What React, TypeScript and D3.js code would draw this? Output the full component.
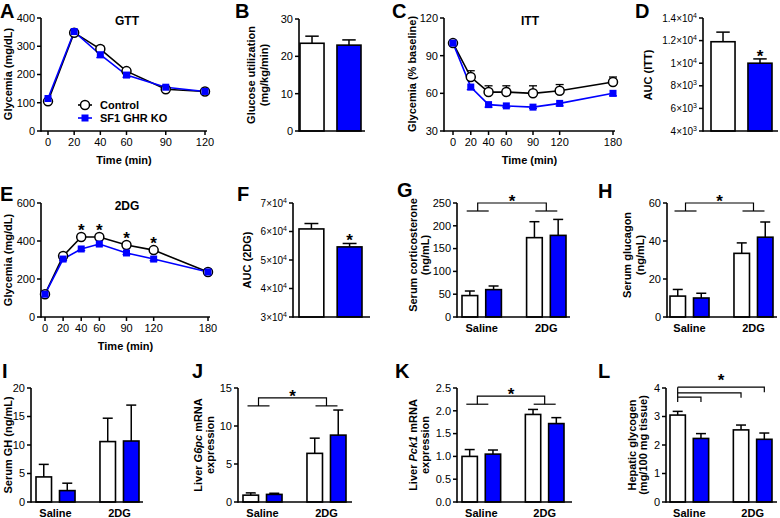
import React from "react";
import * as d3 from "d3";

const FONT = "'Liberation Sans', Arial, Helvetica, sans-serif";
const BLUE = "#0000ff";

// A: GTT
const gttTime = [0, 20, 40, 60, 90, 120];
const gttControl = [105, 348, 290, 212, 148, 140];
const gttControlErr = [6, 8, 10, 8, 6, 5];
const gttKO = [115, 352, 270, 198, 155, 140];
const gttKOErr = [8, 8, 10, 8, 6, 5];

// B: glucose utilization
const glucoseUtil = [23.5, 23.0];
const glucoseUtilErr = [1.9, 1.4];

// C: ITT
const ittTime = [0, 20, 40, 60, 90, 120, 180];
const ittControl = [100, 73, 61, 61, 60, 62, 69];
const ittControlErr = [0, 5, 5, 5, 6, 5, 4];
const ittKO = [100, 65, 51, 50, 49, 52, 60];
const ittKOErr = [0, 2, 2, 1, 1, 2, 2];

// D: AUC ITT
const aucITT = [11900, 10000];
const aucITTErr = [850, 380];

// E: 2DG
const dgTime = [0, 20, 40, 60, 90, 120, 180];
const dgControl = [120, 321, 421, 421, 379, 352, 237];
const dgControlErr = [6, 8, 8, 8, 8, 8, 6];
const dgKO = [120, 305, 358, 384, 337, 305, 237];
const dgKOErr = [6, 8, 8, 8, 8, 8, 6];
const dgStarTimes = [40, 60, 90, 120];

// F: AUC 2DG
const aucDG = [60900, 54600];
const aucDGErr = [1900, 1200];

// G-L: saline vs 2DG, order [saline ctrl, saline KO, 2DG ctrl, 2DG KO]
const groups = ["Saline", "2DG"];
const cort = [47, 60, 174, 179];
const cortErr = [10, 8, 35, 35];
const glucagon = [11, 10, 33.5, 42];
const glucagonErr = [3.5, 2.5, 5.5, 8];
const gh = [4.4, 2.0, 10.6, 10.7];
const ghErr = [2.2, 1.3, 4.1, 6.3];
const g6pc = [0.9, 1.0, 6.4, 8.8];
const g6pcErr = [0.3, 0.15, 2.0, 3.3];
const pck1 = [1.0, 1.05, 1.92, 1.72];
const pck1Err = [0.15, 0.09, 0.11, 0.13];
const glycogen = [3.05, 2.23, 2.53, 2.2];
const glycogenErr = [0.13, 0.17, 0.17, 0.22];

const sci = (v: number) => {
  const e = Math.floor(Math.log10(v) + 1e-9);
  const m = +(v / Math.pow(10, e)).toFixed(1);
  return (
    <>
      {m}×10<tspan dy="-4" fontSize="7">{e}</tspan>
    </>
  );
};

function YAxis({ x, y, ticks, fmt = (v: number) => String(v), fs = 11 }: any) {
  const [b, t] = y.range();
  return (
    <g>
      <line x1={x} x2={x} y1={b + 0.75} y2={t} stroke="#000" strokeWidth={1.6} />
      {ticks.map((v: number) => (
        <g key={v}>
          <line x1={x - 4} x2={x} y1={y(v)} y2={y(v)} stroke="#000" strokeWidth={1.5} />
          <text x={x - 6} y={y(v)} dy="0.35em" textAnchor="end" fontSize={fs}>
            {fmt(v)}
          </text>
        </g>
      ))}
    </g>
  );
}

function VLabel({ x, y, lines }: any) {
  return (
    <g>
      {lines.map((l: any, i: number) => (
        <text key={i} transform={`translate(${x[i]},${y}) rotate(-90)`} dy="0.35em" textAnchor="middle" fontSize={11} fontWeight="bold">
          {l}
        </text>
      ))}
    </g>
  );
}

function Letter({ x, y, t }: any) {
  return (
    <text x={x} y={y} fontSize={20} fontWeight="bold">
      {t}
    </text>
  );
}

function LinePanel(p: any) {
  const x = d3.scaleLinear().domain(p.xDom).range(p.xRng);
  const y = d3.scaleLinear().domain(p.yDom).range([p.bottom, p.top]);
  const line = d3
    .line<number>()
    .x((_, i) => x(p.times[i]))
    .y((d) => y(d));
  return (
    <g>
      <YAxis x={p.axisX} y={y} ticks={p.yTicks} />
      <line x1={p.axisX} x2={p.axisEnd} y1={p.bottom} y2={p.bottom} stroke="#000" strokeWidth={1.6} />
      {p.times.map((t: number) => (
        <g key={t}>
          <line x1={x(t)} x2={x(t)} y1={p.bottom} y2={p.bottom + 4} stroke="#000" strokeWidth={1.5} />
          <text x={x(t)} y={p.bottom + 15} textAnchor="middle" fontSize={11}>
            {t}
          </text>
        </g>
      ))}
      <text x={(p.axisX + p.axisEnd) / 2} y={p.bottom + 33} textAnchor="middle" fontSize={11} fontWeight="bold">
        Time (min)
      </text>
      <text x={p.titleX} y={p.top + 7} textAnchor="middle" fontSize={12} fontWeight="bold">
        {p.title}
      </text>
      {p.ctrl.map((v: number, i: number) =>
        p.ctrlErr[i] > 0 ? (
          <g key={"ce" + i} stroke="#000" strokeWidth={1.3}>
            <line x1={x(p.times[i])} x2={x(p.times[i])} y1={y(v)} y2={y(v + p.ctrlErr[i])} />
            <line x1={x(p.times[i]) - 4} x2={x(p.times[i]) + 4} y1={y(v + p.ctrlErr[i])} y2={y(v + p.ctrlErr[i])} />
          </g>
        ) : null
      )}
      {p.ko.map((v: number, i: number) =>
        p.koErr[i] > 0 ? (
          <g key={"ke" + i} stroke={BLUE} strokeWidth={1.3}>
            <line x1={x(p.times[i])} x2={x(p.times[i])} y1={y(v)} y2={y(v - p.koErr[i])} />
            <line x1={x(p.times[i]) - 4} x2={x(p.times[i]) + 4} y1={y(v - p.koErr[i])} y2={y(v - p.koErr[i])} />
          </g>
        ) : null
      )}
      <path d={line(p.ctrl) as string} fill="none" stroke="#000" strokeWidth={1.6} />
      <path d={line(p.ko) as string} fill="none" stroke={BLUE} strokeWidth={1.6} />
      {p.ctrl.map((v: number, i: number) => (
        <circle key={"c" + i} cx={x(p.times[i])} cy={y(v)} r={4.5} fill="#fff" stroke="#000" strokeWidth={1.5} />
      ))}
      {p.ko.map((v: number, i: number) => (
        <rect key={"k" + i} x={x(p.times[i]) - 3.5} y={y(v) - 3.5} width={7} height={7} fill={BLUE} />
      ))}
      {(p.stars || []).map((t: number) => {
        const i = p.times.indexOf(t);
        return (
          <text key={"s" + t} x={x(t)} y={y(p.ctrl[i]) - 1} textAnchor="middle" fontSize={17} fontWeight="bold">
            *
          </text>
        );
      })}
    </g>
  );
}

function TwoBar(p: any) {
  const x = d3.scaleBand().domain(["Control", "KO"]).range(p.barRng).paddingInner(0.35);
  const y = d3.scaleLinear().domain(p.yDom).range([p.bottom, p.top]);
  const bw = x.bandwidth();
  return (
    <g>
      {p.values.map((v: number, i: number) => {
        const k = i === 0 ? "Control" : "KO";
        const cx = (x(k) as number) + bw / 2;
        const et = y(v + p.errs[i]);
        return (
          <g key={k}>
            <line x1={cx} x2={cx} y1={y(v)} y2={et} stroke="#000" strokeWidth={1.5} />
            <line x1={cx - bw * 0.28} x2={cx + bw * 0.28} y1={et} y2={et} stroke="#000" strokeWidth={1.5} />
            <rect x={x(k)} y={y(v)} width={bw} height={p.bottom - y(v)} fill={i === 0 ? "#fff" : BLUE} stroke="#000" strokeWidth={1.6} />
            {p.star && i === 1 ? (
              <text x={cx} y={et + 3} textAnchor="middle" fontSize={17} fontWeight="bold">
                *
              </text>
            ) : null}
          </g>
        );
      })}
      <YAxis x={p.axisX} y={y} ticks={p.yTicks} fmt={p.fmt} fs={p.fs || 11} />
      <line x1={p.axisX} x2={p.axisEnd} y1={p.bottom} y2={p.bottom} stroke="#000" strokeWidth={1.6} />
    </g>
  );
}

function GroupBar(p: any) {
  const outer = d3.scaleBand().domain(groups).range(p.barRng).paddingInner(0.39);
  const inner = d3.scaleBand().domain(["Control", "KO"]).range([0, outer.bandwidth()]).paddingInner(0.34);
  const y = d3.scaleLinear().domain(p.yDom).range([p.bottom, p.top]);
  const bw = inner.bandwidth();
  const barX = (i: number) => (outer(groups[Math.floor(i / 2)]) as number) + (inner(i % 2 === 0 ? "Control" : "KO") as number);
  const barC = (i: number) => barX(i) + bw / 2;
  const gC = (g: string) => (outer(g) as number) + outer.bandwidth() / 2;
  return (
    <g>
      {p.values.map((v: number, i: number) => {
        const cx = barC(i);
        const et = y(v + p.errs[i]);
        return (
          <g key={i}>
            <line x1={cx} x2={cx} y1={y(v)} y2={et} stroke="#000" strokeWidth={1.5} />
            <line x1={cx - 5} x2={cx + 5} y1={et} y2={et} stroke="#000" strokeWidth={1.5} />
            <rect x={barX(i)} y={y(v)} width={bw} height={p.bottom - y(v)} fill={i % 2 === 0 ? "#fff" : BLUE} stroke="#000" strokeWidth={1.6} />
          </g>
        );
      })}
      <YAxis x={p.axisX} y={y} ticks={p.yTicks} fmt={p.fmt} />
      <line x1={p.axisX} x2={p.axisEnd} y1={p.bottom} y2={p.bottom} stroke="#000" strokeWidth={1.6} />
      {groups.map((g) => (
        <text key={g} x={gC(g)} y={p.bottom + 15} textAnchor="middle" fontSize={11} fontWeight="bold">
          {g}
        </text>
      ))}
      {p.bracket != null ? (
        <g stroke="#000" strokeWidth={1.2} fill="none">
          {(() => {
            const bt = y(p.bracket);
            const lt = bt + 8;
            const l = gC(groups[0]) - 4;
            const r = gC(groups[1]);
            return (
              <>
                <line x1={l - 11} x2={l + 11} y1={lt} y2={lt} />
                <line x1={r - 11} x2={r + 11} y1={lt} y2={lt} />
                <path d={`M${l},${lt}V${bt}H${r}V${lt}`} />
                <text x={(l + r) / 2} y={bt + 4} textAnchor="middle" fontSize={17} fontWeight="bold" stroke="none" fill="#000">
                  *
                </text>
              </>
            );
          })()}
        </g>
      ) : null}
      {p.multi ? (
        <g stroke="#000" strokeWidth={1.2} fill="none">
          {(() => {
            const ys = p.multi.map((v: number) => y(v));
            const l = barC(0);
            const targets = [barC(3), barC(2), barC(1)];
            return (
              <>
                <line x1={l} x2={l} y1={ys[0]} y2={ys[2] + 5} />
                {targets.map((r, k) => (
                  <path key={k} d={`M${l},${ys[k]}H${r}V${ys[k] + 5}`} />
                ))}
                <text x={(l + targets[0]) / 2} y={ys[0] - 1} textAnchor="middle" fontSize={17} fontWeight="bold" stroke="none" fill="#000">
                  *
                </text>
              </>
            );
          })()}
        </g>
      ) : null}
    </g>
  );
}

export default function App() {
  const it = (t: string) => <tspan fontStyle="italic">{t}</tspan>;
  return (
    <svg width={780} height={518} style={{ position: "absolute", left: 0, top: 0, background: "#fff" }} fontFamily={FONT}>
      {/* A */}
      <Letter x={0} y={18} t="A" />
      <LinePanel axisX={41} axisEnd={207} top={18} bottom={131} xDom={[0, 120]} xRng={[48, 205]} yDom={[0, 400]} yTicks={[0, 100, 200, 300, 400]} times={gttTime} ctrl={gttControl} ctrlErr={gttControlErr} ko={gttKO} koErr={gttKOErr} title="GTT" titleX={127} />
      <VLabel x={[8]} y={74} lines={["Glycemia (mg/dL)"]} />
      <g>
        <line x1={78} x2={92} y1={105} y2={105} stroke="#000" strokeWidth={1.6} />
        <circle cx={85} cy={105} r={4.5} fill="#fff" stroke="#000" strokeWidth={1.5} />
        <text x={100} y={109} fontSize={11} fontWeight="bold">Control</text>
        <line x1={78} x2={92} y1={118} y2={118} stroke={BLUE} strokeWidth={1.6} />
        <rect x={81.5} y={114.5} width={7} height={7} fill={BLUE} />
        <text x={100} y={122} fontSize={11} fontWeight="bold">SF1 GHR KO</text>
      </g>

      {/* B */}
      <Letter x={235} y={18} t="B" />
      <TwoBar axisX={299} axisEnd={365} barRng={[300, 361]} top={19} bottom={131} yDom={[0, 30]} yTicks={[0, 10, 20, 30]} values={glucoseUtil} errs={glucoseUtilErr} />
      <VLabel x={[251, 264]} y={75} lines={["Glucose utilization", "(mg/kg/min)"]} />

      {/* C */}
      <Letter x={392} y={18} t="C" />
      <LinePanel axisX={444} axisEnd={615} top={18} bottom={131} xDom={[0, 180]} xRng={[453, 613]} yDom={[30, 120]} yTicks={[30, 60, 90, 120]} times={ittTime} ctrl={ittControl} ctrlErr={ittControlErr} ko={ittKO} koErr={ittKOErr} title="ITT" titleX={530} />
      <VLabel x={[412]} y={74} lines={["Glycemia (% baseline)"]} />

      {/* D */}
      <Letter x={635} y={18} t="D" />
      <TwoBar axisX={703} axisEnd={778} barRng={[711, 772]} top={18} bottom={131} yDom={[4000, 14000]} yTicks={[4000, 6000, 8000, 10000, 12000, 14000]} fmt={sci} fs={10} values={aucITT} errs={aucITTErr} star />
      <VLabel x={[648]} y={75} lines={["AUC (ITT)"]} />

      {/* E */}
      <Letter x={0} y={201} t="E" />
      <LinePanel axisX={41} axisEnd={210} top={203} bottom={317} xDom={[0, 180]} xRng={[45, 208]} yDom={[0, 600]} yTicks={[0, 200, 400, 600]} times={dgTime} ctrl={dgControl} ctrlErr={dgControlErr} ko={dgKO} koErr={dgKOErr} title="2DG" titleX={127} stars={dgStarTimes} />
      <VLabel x={[8]} y={260} lines={["Glycemia (mg/dL)"]} />

      {/* F */}
      <Letter x={237} y={201} t="F" />
      <TwoBar axisX={293} axisEnd={370} barRng={[299, 362]} top={203} bottom={317} yDom={[30000, 70000]} yTicks={[30000, 40000, 50000, 60000, 70000]} fmt={sci} fs={10} values={aucDG} errs={aucDGErr} star />
      <VLabel x={[247]} y={260} lines={["AUC (2DG)"]} />

      {/* G */}
      <Letter x={397} y={197} t="G" />
      <GroupBar axisX={457} axisEnd={570} barRng={[462, 566]} top={203} bottom={317} yDom={[0, 250]} yTicks={[0, 50, 100, 150, 200, 250]} values={cort} errs={cortErr} bracket={250} />
      <VLabel x={[413, 425]} y={255} lines={["Serum corticosterone", "(ng/mL)"]} />

      {/* H */}
      <Letter x={598} y={198} t="H" />
      <GroupBar axisX={667} axisEnd={777} barRng={[670, 773]} top={203} bottom={317} yDom={[0, 60]} yTicks={[0, 20, 40, 60]} values={glucagon} errs={glucagonErr} bracket={60} />
      <VLabel x={[627, 640]} y={255} lines={["Serum glucagon", "(ng/mL)"]} />

      {/* I */}
      <Letter x={2} y={378} t="I" />
      <GroupBar axisX={31} axisEnd={143} barRng={[36, 139]} top={388} bottom={502} yDom={[0, 20]} yTicks={[0, 5, 10, 15, 20]} values={gh} errs={ghErr} />
      <VLabel x={[8]} y={445} lines={["Serum GH (ng/mL)"]} />

      {/* J */}
      <Letter x={192} y={378} t="J" />
      <GroupBar axisX={238} axisEnd={352} barRng={[243, 346]} top={388} bottom={502} yDom={[0, 15]} yTicks={[0, 5, 10, 15]} values={g6pc} errs={g6pcErr} bracket={13.7} />
      <VLabel x={[198, 210]} y={445} lines={[<>Liver {it("G6pc")} mRNA</>, "expression"]} />

      {/* K */}
      <Letter x={395} y={378} t="K" />
      <GroupBar axisX={457} axisEnd={572} barRng={[462, 564]} top={388} bottom={502} yDom={[0, 2.5]} yTicks={[0, 0.5, 1, 1.5, 2, 2.5]} fmt={(v: number) => v.toFixed(1)} values={pck1} errs={pck1Err} bracket={2.32} />
      <VLabel x={[413, 425]} y={445} lines={[<>Liver {it("Pck1")} mRNA</>, "expression"]} />

      {/* L */}
      <Letter x={598} y={378} t="L" />
      <GroupBar axisX={666} axisEnd={777} barRng={[670, 772]} top={388} bottom={502} yDom={[0, 4]} yTicks={[0, 1, 2, 3, 4]} values={glycogen} errs={glycogenErr} multi={[4.03, 3.83, 3.68]} />
      <VLabel x={[632, 643]} y={445} lines={["Hepatic glycogen", "(mg/100 mg tissue)"]} />
    </svg>
  );
}
